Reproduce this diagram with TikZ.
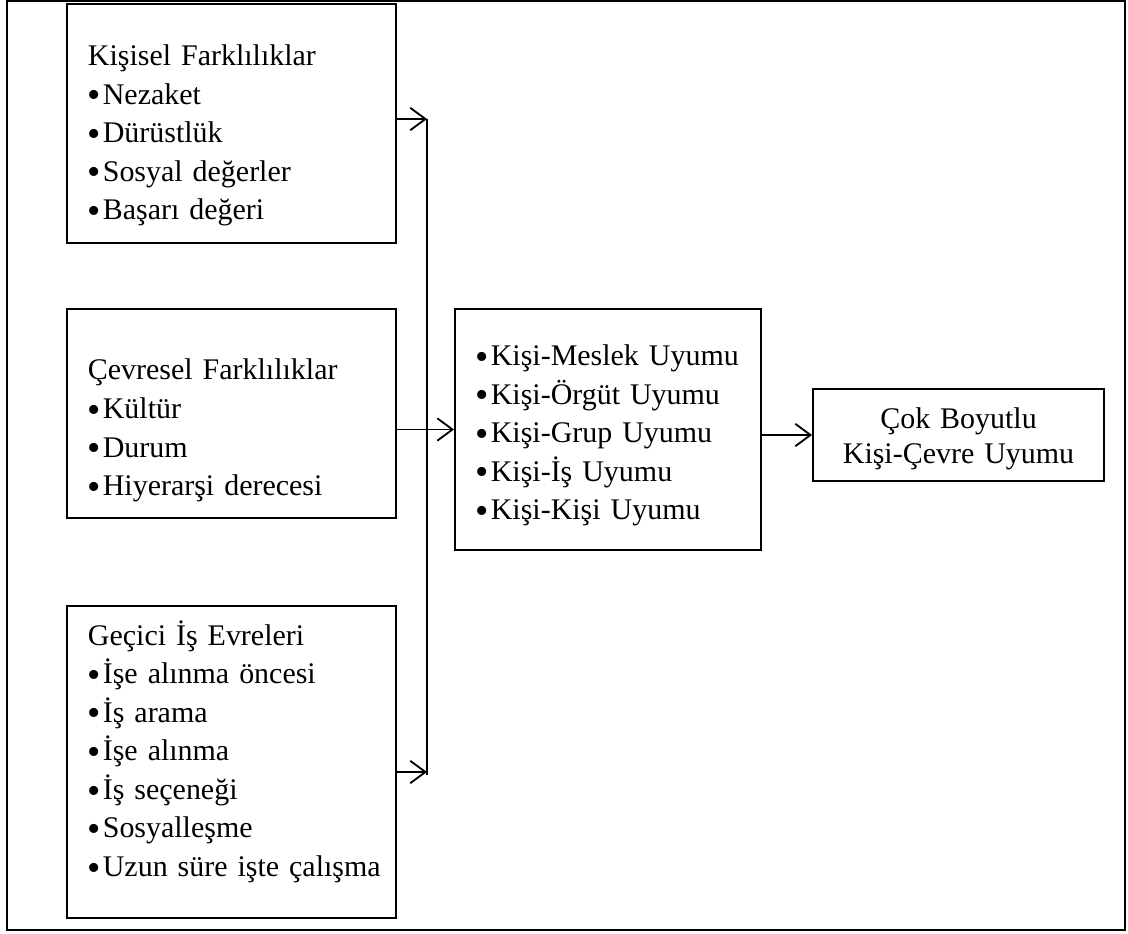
\documentclass[tikz,border=0pt]{standalone}
\usepackage{fontspec}
\setmainfont{Liberation Serif}
\usetikzlibrary{arrows.meta}

\newcommand{\blt}{\raisebox{-2.6pt}{\fontsize{27}{27}\selectfont •}\hspace{0.04cm}}

\tikzset{
  box/.style={draw, line width=1.3pt, rectangle, align=left,
    inner xsep=0.525cm, inner ysep=0pt,
    font=\fontsize{21.3}{27.4}\selectfont},
  arr/.style={-{Straight Barb[length=0.38cm, width=0.56cm]}, line width=1.3pt},
  bus/.style={line width=1.3pt}
}

\begin{document}
\begin{tikzpicture}[x=0.025cm, y=-0.025cm]
      \useasboundingbox (0,0) rectangle (1128,933);
      \draw[line width=1.3pt] (7,1) rectangle (1125,930);

      % left column
      \node[box, text width=7.175cm, minimum height=5.975cm] (k1) at (231.5,123.5)
        {\rule{0pt}{1.125cm}Kişisel Farklılıklar\\ \blt Nezaket\\ \blt Dürüstlük\\
         \blt Sosyal değerler\\ \blt Başarı değeri};
      \node[box, text width=7.175cm, minimum height=5.225cm] (c2) at (231.5,413.5)
        {\rule{0pt}{1.375cm}Çevresel Farklılıklar\\ \blt Kültür\\ \blt Durum\\
         \blt Hiyerarşi derecesi};
      \node[box, text width=7.175cm, minimum height=7.8cm] (g3) at (231.5,762)
        {Geçici İş Evreleri\\ \blt İşe alınma öncesi\\ \blt İş arama\\
         \blt İşe alınma\\ \blt İş seçeneği\\ \blt Sosyalleşme\\
         \mbox{\blt Uzun süre işte çalışma}\rule[-0.675cm]{0pt}{0.675cm}};

      % middle and right
      \node[box, text width=6.6cm, minimum height=6.025cm] (fit) at (608,429.5)
        {\rule{0pt}{0.825cm}\blt Kişi-Meslek Uyumu\\ \blt Kişi-Örgüt Uyumu\\ \blt Kişi-Grup Uyumu\\
         \blt Kişi-İş Uyumu\\ \blt Kişi-Kişi Uyumu};
      \node[box, align=center, text width=6.225cm, minimum height=2.3cm,
            font=\fontsize{21.3}{24.9}\selectfont] (pe) at (958.5,435)
        {\rule{0pt}{0.7cm}Çok Boyutlu\\ Kişi-Çevre Uyumu};

      % connectors
      \coordinate (bustop) at (427,119);
      \coordinate (busbot) at (427,772);
      \draw[bus] (bustop) -- ([yshift=-0.08cm]busbot);
      \draw[arr] (k1.east |- bustop) -- (bustop);
      \draw[arr] (g3.east |- busbot) -- (busbot);
      \draw[arr] (c2.east |- fit.west) -- (fit.west);
      \draw[arr] (fit.east |- pe.west) -- (pe.west);
    \end{tikzpicture}
\end{document}
